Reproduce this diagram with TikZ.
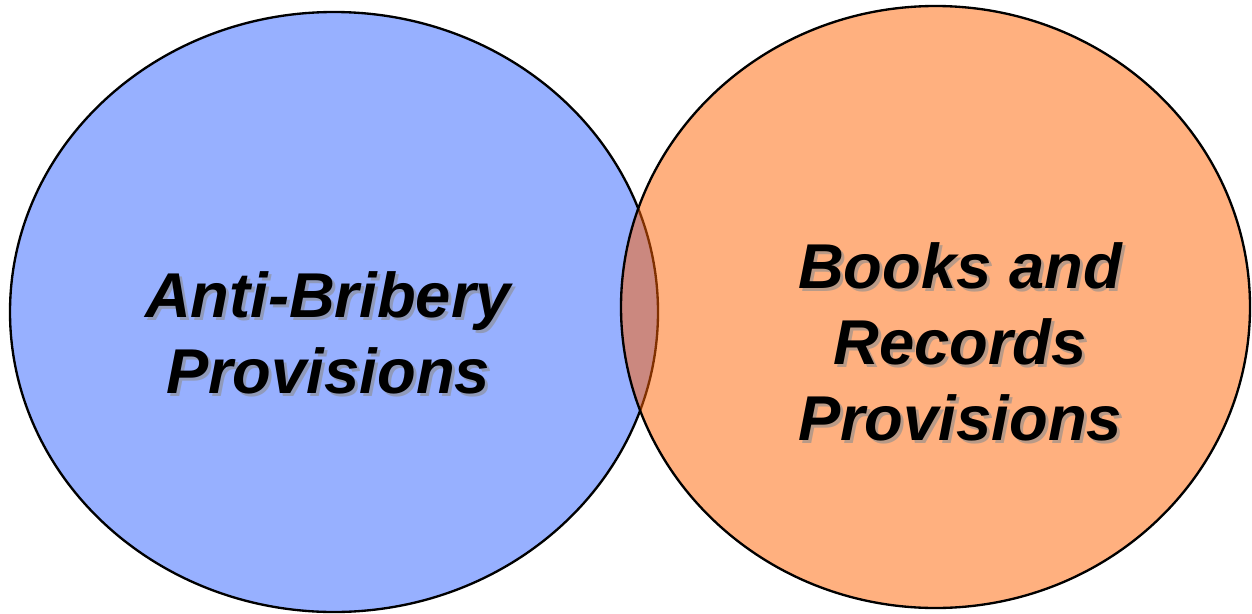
\documentclass[tikz,border=0pt]{standalone}
\usepackage{fontspec}
\setmainfont{Liberation Sans}
\usetikzlibrary{shapes.geometric}

\definecolor{bribeblue}{RGB}{151,176,255}
\definecolor{booksorange}{RGB}{255,97,0}

\tikzset{
  venn/.style={ellipse, draw=black, line width=1.4pt, inner sep=0pt},
  vennlabel/.style={align=center, inner sep=0pt,
    font=\fontsize{38}{45.6}\selectfont\bfseries\itshape},
}

\begin{document}
\begin{tikzpicture}[x=0.6pt, y=-0.6pt]
    \useasboundingbox (0,0) rectangle (1252,613);
    % the two sets
    \node[venn, fill=bribeblue, minimum width=388.8pt, minimum height=360pt] (bribery) at (334,312) {};
    \node[venn, fill=booksorange, fill opacity=0.5, minimum width=377.4pt, minimum height=361.2pt] (books) at (935.5,307) {};
    
    % labels, each with a soft shadow
    \foreach \n/\x/\y/\t in {briberytext/328/333/{Anti-Bribery\\Provisions},
                             bookstext/960/341.5/{Books and\\Records\\Provisions}} {
        \node[vennlabel, text=black!45, opacity=0.6] (\n-shadow) at (\x+3,\y+3) {\t};
        \node[vennlabel] (\n) at (\x,\y) {\t};
    }
\end{tikzpicture}
\end{document}
